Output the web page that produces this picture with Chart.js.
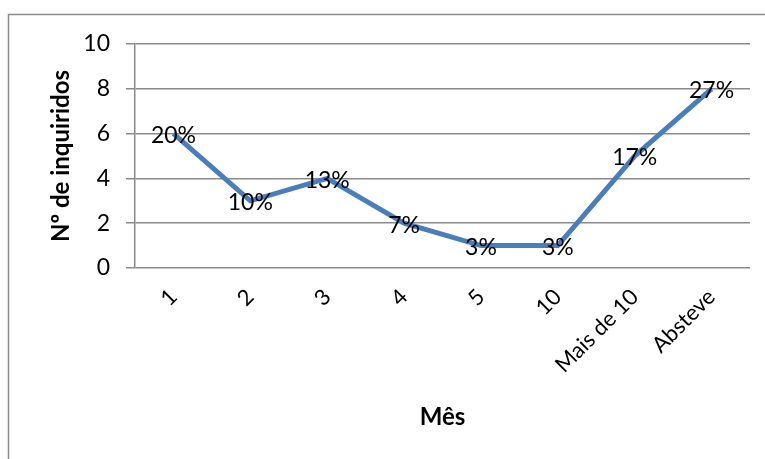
<!DOCTYPE html>
<html>
<head>
<meta charset="utf-8">
<script src="https://cdn.jsdelivr.net/npm/chart.js@4.4.1/dist/chart.umd.min.js"></script>
<style>
  html, body { margin: 0; padding: 0; background: #fff; }
  #wrap { width: 765px; height: 459px; }
</style>
</head>
<body>
<div id="wrap"><canvas id="c" width="765" height="459"></canvas></div>
<script>
  // Chart data
  var months = ['1', '2', '3', '4', '5', '10', 'Mais de 10', 'Absteve'];
  var respondents = [6, 3, 4, 2, 1, 1, 5, 8];
  var percentLabels = ['20%', '10%', '13%', '7%', '3%', '3%', '17%', '27%'];
  var yTicks = [0, 2, 4, 6, 8, 10];

  var FONT = 'Lato, "Liberation Sans", sans-serif';
  var GRID = '#898989';

  // outer frame + percentage labels on the points
  var extras = {
    id: 'extras',
    beforeDraw: function (chart) {
      var ctx = chart.ctx;
      ctx.save();
      ctx.fillStyle = '#fff';
      ctx.fillRect(0, 0, chart.width, chart.height);
      ctx.strokeStyle = '#8a8a8a';
      ctx.lineWidth = 1.5;
      ctx.strokeRect(8.5, 14.5, 820, 520);
      ctx.restore();
    },
    afterDatasetsDraw: function (chart) {
      var ctx = chart.ctx;
      var meta = chart.getDatasetMeta(0);
      ctx.save();
      ctx.fillStyle = '#000';
      ctx.font = '23px ' + FONT;
      ctx.textAlign = 'center';
      ctx.textBaseline = 'middle';
      meta.data.forEach(function (pt, i) {
        ctx.fillText(percentLabels[i], pt.x, pt.y + 2);
      });
      ctx.restore();
    }
  };

  new Chart(document.getElementById('c'), {
    type: 'line',
    data: {
      labels: months,
      datasets: [{
        label: 'Nº de inquiridos',
        data: respondents,
        borderColor: '#4A7EBB',
        borderWidth: 5,
        pointRadius: 0,
        tension: 0,
        fill: false
      }]
    },
    options: {
      responsive: false,
      animation: false,
      layout: { padding: { left: 0, top: 44, right: 15, bottom: 0 } },
      plugins: {
        legend: { display: false },
        tooltip: { enabled: false }
      },
      scales: {
        x: {
          offset: true,
          grid: { display: false, drawTicks: false },
          border: { display: false },
          ticks: {
            color: '#000',
            font: { family: FONT, size: 22 },
            minRotation: 45,
            maxRotation: 45,
            padding: 16
          },
          title: {
            display: true,
            text: 'Mês',
            color: '#000',
            font: { family: FONT, size: 24, weight: 'bold' },
            padding: { top: 0, bottom: 27 }
          },
          afterFit: function (scale) { scale.height = 191; }
        },
        y: {
          min: 0,
          max: 10,
          afterBuildTicks: function (scale) {
            scale.ticks = yTicks.map(function (v) { return { value: v }; });
          },
          grid: { color: GRID, lineWidth: 1.5, tickLength: 9 },
          border: { display: true, color: GRID, width: 1.5 },
          ticks: {
            color: '#000',
            font: { family: FONT, size: 23 },
            padding: 16
          },
          title: {
            display: true,
            text: 'Nº de inquiridos',
            color: '#000',
            font: { family: FONT, size: 24, weight: 'bold' },
            padding: { top: 47, bottom: 0 }
          },
          afterFit: function (scale) { scale.width = 135; }
        }
      }
    },
    plugins: [extras]
  });
</script>
</body>
</html>
